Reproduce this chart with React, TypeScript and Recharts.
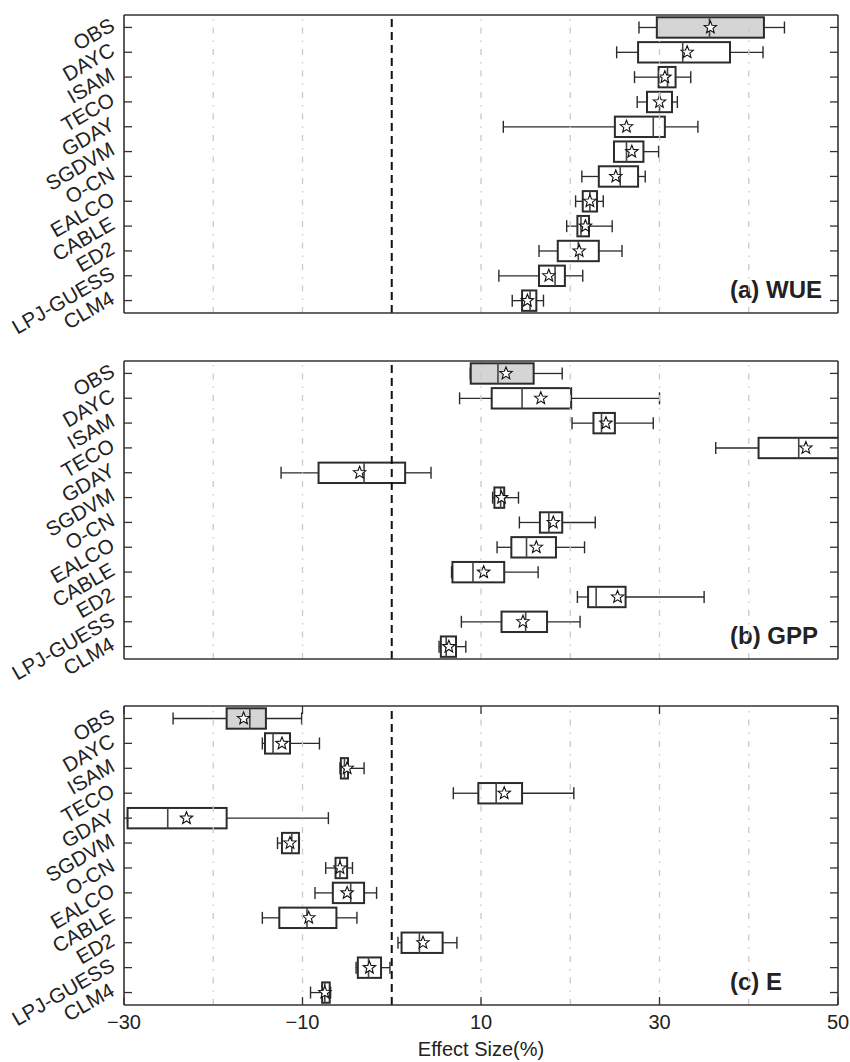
import React from 'react';
import { ComposedChart, Bar, XAxis, YAxis, ReferenceLine, Customized } from 'recharts';

const models = ['OBS', 'DAYC', 'ISAM', 'TECO', 'GDAY', 'SGDVM', 'O-CN', 'EALCO', 'CABLE', 'ED2', 'LPJ-GUESS', 'CLM4'];
const xTicks = [-30, -10, 10, 30, 50];
const gridValues = [-20, -10, 10, 20, 30, 40];
const xDomain: [number, number] = [-30, 50];

// (a) WUE
const wueLow = [27.7, 25.2, 27.2, 27.5, 12.5, 24.9, 21.3, 20.6, 19.6, 16.5, 12.0, 13.5];
const wueQ1 = [29.7, 27.6, 29.9, 28.6, 25.0, 24.9, 23.2, 21.4, 20.8, 18.6, 16.5, 14.6];
const wueMedian = [35.6, 32.6, 30.9, 30.0, 29.3, 26.3, 25.6, 22.2, 21.2, 20.9, 18.3, 15.5];
const wueQ3 = [41.7, 37.9, 31.8, 31.4, 30.6, 28.2, 27.6, 23.0, 22.1, 23.2, 19.4, 16.2];
const wueHigh = [44.0, 41.6, 33.5, 32.0, 34.3, 29.9, 28.4, 23.7, 24.7, 25.8, 21.4, 17.0];
const wueMean = [35.7, 33.1, 30.6, 30.0, 26.3, 26.9, 25.1, 22.2, 21.7, 21.0, 17.6, 15.2];

// (b) GPP
const gppLow = [8.8, 7.6, 20.2, 36.3, -12.4, 11.3, 14.3, 11.8, 6.7, 20.8, 7.8, 5.3];
const gppQ1 = [8.85, 11.2, 22.6, 41.1, -8.2, 11.5, 16.6, 13.4, 6.8, 22.0, 12.3, 5.5];
const gppMedian = [11.9, 14.6, 23.5, 45.6, -3.1, 12.2, 17.6, 15.1, 9.1, 22.9, 15.0, 6.1];
const gppQ3 = [15.9, 20.1, 25.0, 52.0, 1.5, 12.6, 19.1, 18.4, 12.6, 26.2, 17.4, 7.2];
const gppHigh = [19.1, 30.0, 29.3, 55.0, 4.4, 14.2, 22.8, 21.6, 16.4, 35.0, 21.1, 8.3];
const gppMean = [12.8, 16.7, 24.0, 46.4, -3.6, 12.3, 18.1, 16.2, 10.3, 25.3, 14.7, 6.4];

// (c) E
const eLow = [-24.5, -14.5, -5.8, 6.9, -29.6, -12.8, -7.4, -8.6, -14.5, 0.7, -4.0, -9.1];
const eQ1 = [-18.5, -14.2, -5.7, 9.7, -29.6, -12.3, -6.3, -6.6, -12.6, 1.1, -3.8, -7.8];
const eMedian = [-15.9, -13.3, -5.3, 11.7, -25.1, -11.2, -5.8, -4.6, -9.5, 3.1, -2.6, -7.5];
const eQ3 = [-14.1, -11.4, -4.9, 14.6, -18.5, -10.4, -5.0, -3.1, -6.2, 5.7, -1.2, -6.95];
const eHigh = [-10.1, -8.1, -3.1, 20.4, -7.1, -10.35, -4.4, -1.7, -3.9, 7.3, -0.2, -6.85];
const eMean = [-16.6, -12.3, -5.0, 12.6, -23.0, -11.4, -5.8, -5.0, -9.3, 3.5, -2.5, -7.5];

const FONT = '"Liberation Sans", Arial, Helvetica, sans-serif';

type Row = { name: string; low: number; q1: number; median: number; q3: number; high: number; mean: number; obs: boolean };

const buildRows = (low: number[], q1: number[], med: number[], q3: number[], high: number[], mean: number[]): Row[] =>
  models.map((name, i) => ({ name, low: low[i], q1: q1[i], median: med[i], q3: q3[i], high: high[i], mean: mean[i], obs: i === 0 }));

const wueRows = buildRows(wueLow, wueQ1, wueMedian, wueQ3, wueHigh, wueMean);
const gppRows = buildRows(gppLow, gppQ1, gppMedian, gppQ3, gppHigh, gppMean);
const eRows = buildRows(eLow, eQ1, eMedian, eQ3, eHigh, eMean);

const starPath = (cx: number, cy: number, R: number, r: number) => {
  let d = '';
  for (let k = 0; k < 10; k++) {
    const ang = -Math.PI / 2 + (k * Math.PI) / 5;
    const rad = k % 2 === 0 ? R : r;
    const px = cx + rad * Math.cos(ang);
    const py = cy + rad * Math.sin(ang);
    d += (k === 0 ? 'M' : 'L') + px.toFixed(2) + ',' + py.toFixed(2);
  }
  return d + 'Z';
};

const BoxShape = (props: any) => {
  const { x, y, width, height, payload } = props;
  if (!payload) return null;
  const { low, q1, median, q3, high, mean, obs } = payload as Row;
  const span = high - low;
  const px = (v: number) => x + ((v - low) / span) * width;
  const cy = y + height / 2;
  const bh = 10.2;
  const cap = 6;
  const c = '#2b2b2b';
  return (
    <g>
      <line x1={px(low)} x2={px(q1)} y1={cy} y2={cy} stroke={c} strokeWidth={1.3} />
      <line x1={px(q3)} x2={px(high)} y1={cy} y2={cy} stroke={c} strokeWidth={1.3} />
      <line x1={px(low)} x2={px(low)} y1={cy - cap} y2={cy + cap} stroke={c} strokeWidth={1.4} />
      <line x1={px(high)} x2={px(high)} y1={cy - cap} y2={cy + cap} stroke={c} strokeWidth={1.4} />
      <rect x={px(q1)} y={cy - bh} width={px(q3) - px(q1)} height={bh * 2} fill={obs ? '#d5d5d5' : '#ffffff'} stroke={c} strokeWidth={2} />
      <line x1={px(median)} x2={px(median)} y1={cy - bh} y2={cy + bh} stroke="#444" strokeWidth={1.6} />
      <path d={starPath(px(mean), cy, 6.5, 2.8)} fill="#ffffff" stroke="#111" strokeWidth={1.1} strokeLinejoin="miter" />
    </g>
  );
};

const CategoryTick = (props: any) => {
  const { x, y, payload } = props;
  const ax = x - 8;
  const ay = y + 2;
  return (
    <g>
      <line x1={x} x2={x + 8} y1={y} y2={y} stroke="#333" strokeWidth={1.3} />
      <text x={ax} y={ay} textAnchor="end" transform={`rotate(-30 ${ax} ${ay})`} fontSize={20.5} fill="#222" fontFamily={FONT}>
        {payload.value}
      </text>
    </g>
  );
};

const RightTick = (props: any) => {
  const { x, y } = props;
  return <line x1={x - 8} x2={x} y1={y} y2={y} stroke="#333" strokeWidth={1.3} />;
};

const fmt = (v: number) => (v < 0 ? '\u2212' + Math.abs(v) : String(v));

const BottomTick = (props: any) => {
  const { x, y, payload } = props;
  return (
    <g>
      <line x1={x} x2={x} y1={y - 8} y2={y} stroke="#333" strokeWidth={1.3} />
      <text x={x} y={y + 23.5} textAnchor="middle" fontSize={20} fill="#222" fontFamily={FONT}>
        {fmt(payload.value)}
      </text>
    </g>
  );
};

const TopTick = (props: any) => {
  const { x, y } = props;
  return <line x1={x} x2={x} y1={y} y2={y + 8} stroke="#333" strokeWidth={1.3} />;
};

const AxisTitle = (props: any) => {
  const vb = props.viewBox || {};
  return (
    <text x={vb.x + vb.width / 2} y={vb.y + 51} textAnchor="middle" fontSize={20} fill="#222" fontFamily={FONT}>
      Effect Size(%)
    </text>
  );
};

const CHART_W = 850;
const LEFT_W = 124;
const RIGHT_W = 12;

type PanelProps = { top: number; height: number; plotTop: number; plotBottom: number; rows: Row[]; label: string; showX: boolean };

function Panel({ top, height, plotTop, plotBottom, rows, label, showX }: PanelProps) {
  const topH = plotTop - top;
  const botH = top + height - plotBottom;
  const axisStroke = { stroke: '#333', strokeWidth: 1.6 };
  return (
    <div style={{ position: 'absolute', left: 0, top }}>
      <ComposedChart
        width={CHART_W}
        height={height}
        data={rows}
        layout="vertical"
        margin={{ top: 0, right: 0, bottom: 0, left: 0 }}
        style={{ overflow: 'visible' }}
      >
        <XAxis
          type="number"
          domain={xDomain}
          allowDataOverflow
          ticks={xTicks}
          interval={0}
          height={botH}
          axisLine={axisStroke}
          tickLine={false}
          tickSize={0}
          tickMargin={0}
          tick={showX ? <BottomTick /> : false}
          label={showX ? <AxisTitle /> : undefined}
        />
        <XAxis
          xAxisId="t"
          orientation="top"
          type="number"
          domain={xDomain}
          allowDataOverflow
          ticks={xTicks}
          interval={0}
          height={topH}
          axisLine={axisStroke}
          tickLine={false}
          tickSize={0}
          tickMargin={0}
          tick={showX ? <TopTick /> : false}
        />
        <YAxis
          type="category"
          dataKey="name"
          width={LEFT_W}
          axisLine={axisStroke}
          tickLine={false}
          tickSize={0}
          tickMargin={0}
          interval={0}
          tick={<CategoryTick />}
        />
        <YAxis
          yAxisId="r"
          orientation="right"
          type="category"
          dataKey="name"
          width={RIGHT_W}
          axisLine={axisStroke}
          tickLine={false}
          tickSize={0}
          tickMargin={0}
          interval={0}
          tick={<RightTick />}
        />
        {gridValues.map((g) => (
          <ReferenceLine key={g} x={g} stroke="#c9c9c9" strokeWidth={1.3} strokeDasharray="6 7 1.5 7" />
        ))}
        <Bar
          dataKey={(d: Row) => [d.low, d.high]}
          isAnimationActive={false}
          fill="#ffffff"
          shape={(p: any) => <BoxShape {...p} />}
        />
        <ReferenceLine x={0} stroke="#111" strokeWidth={2} strokeDasharray="8 5" />
        <Customized
          component={() => (
            <text x={730} y={plotBottom - top - 15} fontSize={24} fontWeight="bold" fill="#222" fontFamily={FONT}>
              {label}
            </text>
          )}
        />
      </ComposedChart>
    </div>
  );
}

export default function App() {
  return (
    <div style={{ position: 'absolute', left: 0, top: 0, width: 850, height: 1062, background: '#fff', fontFamily: FONT }}>
      <Panel top={0} height={340} plotTop={15} plotBottom={313} rows={wueRows} label="(a) WUE" showX={false} />
      <Panel top={340} height={340} plotTop={361} plotBottom={659} rows={gppRows} label="(b) GPP" showX={false} />
      <Panel top={680} height={382} plotTop={706} plotBottom={1005} rows={eRows} label="(c) E" showX={true} />
    </div>
  );
}
